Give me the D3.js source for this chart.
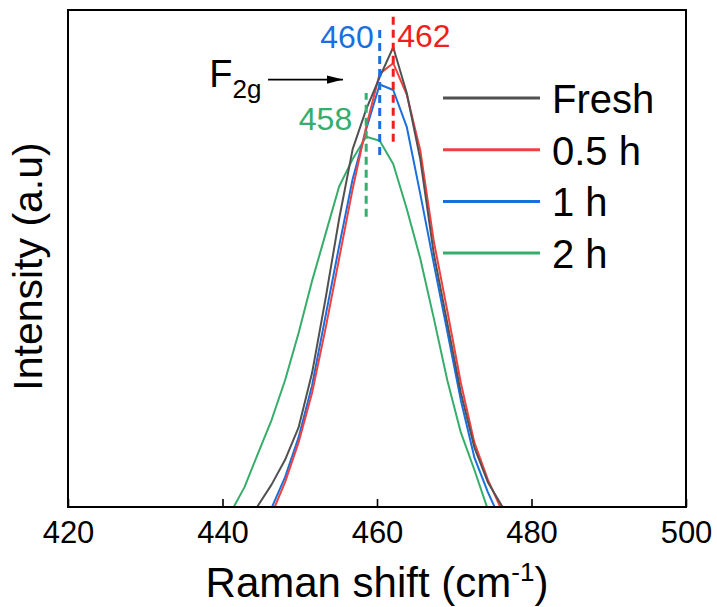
<!DOCTYPE html>
<html>
<head>
<meta charset="utf-8">
<script src="https://cdn.jsdelivr.net/npm/d3@7"></script>
<style>
  body { margin: 0; background: #fff; }
  text { font-family: "Liberation Sans", Arial, sans-serif; }
</style>
</head>
<body>
<script>
// Raman shift grid (cm-1) shared by all spectra
const shift = [441.1, 442.85, 444.6, 446.35, 448.1, 449.85, 451.6, 453.35, 455.1, 456.85, 458.6,
               460.35, 462.1, 463.85, 465.6, 467.35, 469.1, 470.85, 472.6, 474.35, 476.1, 477.85];

// intensities (a.u.)
const fresh  = [-0.08, -0.04, 0.003, 0.045, 0.095, 0.16, 0.27, 0.42, 0.58, 0.72, 0.80,
                0.865, 0.925, 0.833, 0.70, 0.51, 0.37, 0.23, 0.12, 0.05, 0.004, -0.03];
const half   = [-0.10, -0.07, -0.04, -0.015, 0.05, 0.13, 0.23, 0.36, 0.50, 0.64, 0.765,
                0.872, 0.893, 0.83, 0.718, 0.535, 0.395, 0.25, 0.13, 0.055, -0.005, -0.04];
const oneH   = [-0.10, -0.07, -0.035, -0.002, 0.06, 0.14, 0.245, 0.385, 0.525, 0.66, 0.76,
                0.85, 0.839, 0.765, 0.63, 0.49, 0.353, 0.215, 0.10, 0.03, -0.03, -0.06];
const twoH   = [-0.01, 0.04, 0.108, 0.175, 0.255, 0.35, 0.455, 0.55, 0.645, 0.70, 0.745,
                0.737, 0.69, 0.60, 0.50, 0.38, 0.255, 0.15, 0.075, -0.005, -0.06, -0.10];

const seriesNames = ["Fresh", "0.5 h", "1 h", "2 h"];
const seriesValues = [fresh, half, oneH, twoH];
const seriesColors = ["#515151", "#F14040", "#1A6FDF", "#37AD6B"];

// peak position markers (dashed), drawn back to front
const peakLabels = ["458", "460", "462"];
const peakPos = [458.6, 460.35, 462.1];
const peakLow = [0.584, 0.708, 0.735];
const peakHigh = [0.833, 0.964, 0.99];
const peakColors = ["#37AD6B", "#1A6FDF", "#F01E1E"];

const xTicks = [420, 440, 460, 480, 500];

// set the dimensions and margins of the graph
var margin = {top: 10, right: 31, bottom: 100, left: 68},
    width = 717 - margin.left - margin.right,
    height = 607 - margin.top - margin.bottom;

var svg = d3.select("body")
    .append("svg")
    .attr("width", 717)
    .attr("height", 607)
    .append("g")
    .attr("transform", "translate(" + margin.left + "," + margin.top + ")");

const x = d3.scaleLinear().domain([420, 500]).range([0, width]);
const y = d3.scaleLinear().domain([0, 1]).range([height, 0]);

svg.append("clipPath").attr("id", "plot-clip")
    .append("rect").attr("width", width).attr("height", height);

// spectra, 2 h first so Fresh ends on top
const valueline = d3.line()
    .x(function(d) { return x(d[0]); })
    .y(function(d) { return y(d[1]); });

const order = [3, 2, 1, 0];
svg.append("g").attr("clip-path", "url(#plot-clip)")
    .selectAll("path")
    .data(order)
    .join("path")
    .attr("fill", "none")
    .attr("stroke", function(i) { return seriesColors[i]; })
    .attr("stroke-width", 2)
    .attr("stroke-linejoin", "round")
    .attr("d", function(i) { return valueline(shift.map(function(s, k) { return [s, seriesValues[i][k]]; })); });

// dashed peak markers
svg.selectAll(".peak")
    .data(peakPos)
    .join("line")
    .attr("class", "peak")
    .attr("x1", function(d) { return x(d); })
    .attr("x2", function(d) { return x(d); })
    .attr("y1", function(d, i) { return y(peakLow[i]); })
    .attr("y2", function(d, i) { return y(peakHigh[i]); })
    .attr("stroke", function(d, i) { return peakColors[i]; })
    .attr("stroke-width", 3)
    .attr("stroke-dasharray", "8,5");

// peak labels: 458 and 460 to the left of their line, 462 to the right
const labelDx = [-14, -6, 4];
const labelY = [130, 48, 47];
svg.selectAll(".peak-label")
    .data(peakLabels)
    .join("text")
    .attr("class", "peak-label")
    .attr("x", function(d, i) { return x(peakPos[i]) + labelDx[i]; })
    .attr("y", function(d, i) { return labelY[i] - margin.top; })
    .attr("text-anchor", function(d, i) { return i < 2 ? "end" : "start"; })
    .attr("fill", function(d, i) { return peakColors[i]; })
    .style("font-size", "32px")
    .text(function(d) { return d; });

// F2g annotation with arrow
svg.append("defs").append("marker")
    .attr("id", "arrow")
    .attr("viewBox", "0 0 16 10")
    .attr("refX", 16).attr("refY", 5)
    .attr("markerWidth", 16).attr("markerHeight", 10)
    .attr("markerUnits", "userSpaceOnUse")
    .attr("orient", "auto")
    .append("path").attr("d", "M0,0.8L16,5L0,9.2z").attr("fill", "#000");

const f2g = svg.append("text")
    .attr("x", x(438.3)).attr("y", y(0.86) + 7)
    .style("font-size", "38px");
f2g.append("tspan").text("F");
f2g.append("tspan").attr("dy", 11).style("font-size", "26px").text("2g");

svg.append("line")
    .attr("x1", x(445.9)).attr("x2", x(455.6))
    .attr("y1", y(0.86)).attr("y2", y(0.86))
    .attr("stroke", "#000").attr("stroke-width", 1.6)
    .attr("marker-end", "url(#arrow)");

// legend
const legend = svg.selectAll(".legend")
    .data(seriesNames)
    .join("g")
    .attr("class", "legend")
    .attr("transform", function(d, i) { return "translate(" + (443 - margin.left) + "," + (98 + i * 51.7 - margin.top) + ")"; });
legend.append("line")
    .attr("x1", 0).attr("x2", 97)
    .attr("stroke", function(d, i) { return seriesColors[i]; })
    .attr("stroke-width", 3);
legend.append("text")
    .attr("x", 109).attr("y", 15)
    .style("font-size", "40px")
    .text(function(d) { return d; });

// bottom axis with inward ticks
svg.append("g")
    .attr("transform", "translate(0," + height + ")")
    .call(d3.axisBottom(x).tickValues(xTicks).tickSizeInner(-8).tickSizeOuter(0).tickPadding(14))
    .call(function(g) {
        g.select(".domain").remove();
        g.selectAll("line").attr("stroke", "#000").attr("stroke-width", 1.6);
        g.selectAll("text").style("font-size", "31px").attr("fill", "#000")
            .attr("font-family", "Liberation Sans, Arial, sans-serif");
    });

// frame
svg.append("rect")
    .attr("width", width).attr("height", height)
    .attr("fill", "none").attr("stroke", "#000").attr("stroke-width", 2);

// axis titles
const xt = svg.append("text")
    .attr("x", width / 2).attr("y", 597 - margin.top)
    .attr("text-anchor", "middle")
    .style("font-size", "42px");
xt.append("tspan").text("Raman shift (cm");
xt.append("tspan").attr("dy", -16).style("font-size", "26px").text("-1");
xt.append("tspan").attr("dy", 16).text(")");

svg.append("text")
    .attr("transform", "translate(" + (42 - margin.left) + "," + (height / 2 + 8) + ") rotate(-90)")
    .attr("text-anchor", "middle")
    .style("font-size", "41px")
    .text("Intensity (a.u)");
</script>
</body>
</html>
